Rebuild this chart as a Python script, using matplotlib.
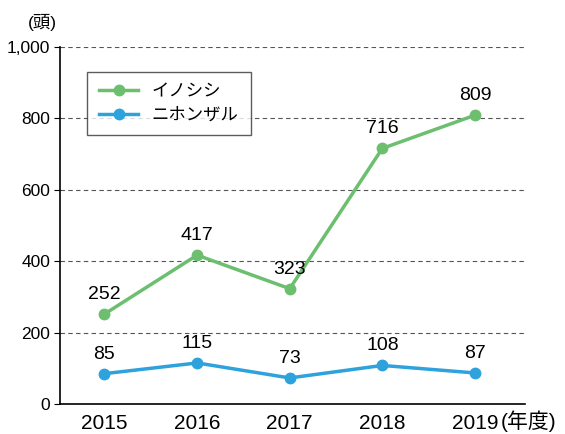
import matplotlib.pyplot as plt
from matplotlib.ticker import FuncFormatter

plt.rcParams['font.family'] = ['Liberation Sans', 'Noto Sans CJK JP', 'DejaVu Sans']

years = ['2015', '2016', '2017', '2018', '2019']
inoshishi = [252, 417, 323, 716, 809]
nihonzaru = [85, 115, 73, 108, 87]

green = '#6cbf6f'
blue = '#2ea2dc'

fig = plt.figure(figsize=(5.65, 4.34), dpi=100)
ax = fig.add_axes([60 / 565, 30 / 434, 465 / 565, 357 / 434])

x = list(range(len(years)))
ax.plot(x, inoshishi, '-o', color=green, lw=2.5, ms=7.5, label='イノシシ', zorder=3)
ax.plot(x, nihonzaru, '-o', color=blue, lw=2.5, ms=7.5, label='ニホンザル', zorder=3)

for xi, v in zip(x, inoshishi):
    ax.annotate(str(v), (xi, v), xytext=(0, 8), textcoords='offset points',
                ha='center', va='bottom', fontsize=14)
for xi, v in zip(x, nihonzaru):
    ax.annotate(str(v), (xi, v), xytext=(0, 8), textcoords='offset points',
                ha='center', va='bottom', fontsize=14)

ax.set_xlim(-0.48, 4.54)
ax.set_ylim(0, 1000)
ax.set_yticks([0, 200, 400, 600, 800, 1000])
ax.yaxis.set_major_formatter(FuncFormatter(lambda v, p: f'{int(v):,}'))
ax.set_xticks(x)
ax.set_xticklabels(years, fontsize=15)
ax.tick_params(axis='x', length=0, pad=7)
ax.tick_params(axis='y', labelsize=12.5, length=4, direction='out', pad=3)
ax.grid(axis='y', linestyle=(0, (4, 3)), color='#555555', lw=0.8)
ax.set_axisbelow(True)
for s in ['top', 'right']:
    ax.spines[s].set_visible(False)
ax.spines['left'].set_linewidth(1.2)
ax.spines['bottom'].set_linewidth(1.2)

fig.text(42 / 565, 1 - 22 / 434, '(頭)', ha='center', va='center', fontsize=12.5)
fig.text(501 / 565, 1 - 421 / 434, '(年度)', ha='left', va='center', fontsize=15)

leg = ax.legend(loc='upper left', bbox_to_anchor=(0.04, 0.955), fontsize=12.5,
                frameon=True, fancybox=False, edgecolor='#333333',
                handlelength=2.2, borderpad=0.7, labelspacing=0.5)
leg.get_frame().set_linewidth(1.0)

fig.savefig('out.png', dpi=100)
